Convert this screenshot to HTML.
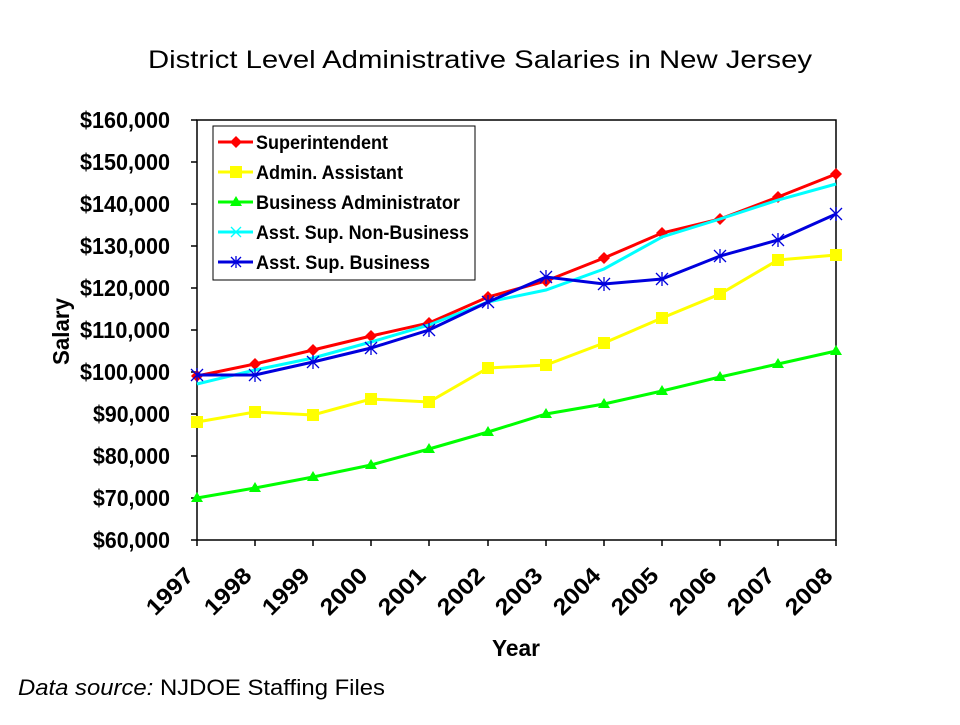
<!DOCTYPE html>
<html><head><meta charset="utf-8"><style>
body{margin:0;background:#fff;}
svg text{font-family:"Liberation Sans",Arial,sans-serif;}
</style></head><body>
<svg width="960" height="720" viewBox="0 0 960 720" xmlns="http://www.w3.org/2000/svg">
<rect width="960" height="720" fill="#fff"/>
<text x="148" y="68" font-size="25" textLength="664" lengthAdjust="spacingAndGlyphs">District Level Administrative Salaries in New Jersey</text>
<rect x="197" y="120" width="639" height="420" fill="none" stroke="#000" stroke-width="1.5"/>
<g stroke="#000" stroke-width="1.5">
<line x1="191" y1="120" x2="197" y2="120"/><line x1="191" y1="162" x2="197" y2="162"/><line x1="191" y1="204" x2="197" y2="204"/><line x1="191" y1="246" x2="197" y2="246"/><line x1="191" y1="288" x2="197" y2="288"/><line x1="191" y1="330" x2="197" y2="330"/><line x1="191" y1="372" x2="197" y2="372"/><line x1="191" y1="414" x2="197" y2="414"/><line x1="191" y1="456" x2="197" y2="456"/><line x1="191" y1="498" x2="197" y2="498"/><line x1="191" y1="540" x2="197" y2="540"/>
<line x1="197" y1="540" x2="197" y2="546"/><line x1="255" y1="540" x2="255" y2="546"/><line x1="313" y1="540" x2="313" y2="546"/><line x1="371" y1="540" x2="371" y2="546"/><line x1="429" y1="540" x2="429" y2="546"/><line x1="488" y1="540" x2="488" y2="546"/><line x1="546" y1="540" x2="546" y2="546"/><line x1="604" y1="540" x2="604" y2="546"/><line x1="662" y1="540" x2="662" y2="546"/><line x1="720" y1="540" x2="720" y2="546"/><line x1="778" y1="540" x2="778" y2="546"/><line x1="836" y1="540" x2="836" y2="546"/>
</g>
<g font-size="23" font-weight="bold">
<text x="80" y="128" textLength="90" lengthAdjust="spacingAndGlyphs">$160,000</text><text x="80" y="170" textLength="90" lengthAdjust="spacingAndGlyphs">$150,000</text><text x="80" y="212" textLength="90" lengthAdjust="spacingAndGlyphs">$140,000</text><text x="80" y="254" textLength="90" lengthAdjust="spacingAndGlyphs">$130,000</text><text x="80" y="296" textLength="90" lengthAdjust="spacingAndGlyphs">$120,000</text><text x="80" y="338" textLength="90" lengthAdjust="spacingAndGlyphs">$110,000</text><text x="80" y="380" textLength="90" lengthAdjust="spacingAndGlyphs">$100,000</text><text x="93" y="422" textLength="77" lengthAdjust="spacingAndGlyphs">$90,000</text><text x="93" y="464" textLength="77" lengthAdjust="spacingAndGlyphs">$80,000</text><text x="93" y="506" textLength="77" lengthAdjust="spacingAndGlyphs">$70,000</text><text x="93" y="548" textLength="77" lengthAdjust="spacingAndGlyphs">$60,000</text>
</g>
<g font-size="23" font-weight="bold">
<text transform="translate(195,577) rotate(-45)" x="-56" textLength="56" lengthAdjust="spacingAndGlyphs">1997</text>
<text transform="translate(253,577) rotate(-45)" x="-56" textLength="56" lengthAdjust="spacingAndGlyphs">1998</text>
<text transform="translate(311,577) rotate(-45)" x="-56" textLength="56" lengthAdjust="spacingAndGlyphs">1999</text>
<text transform="translate(369,577) rotate(-45)" x="-56" textLength="56" lengthAdjust="spacingAndGlyphs">2000</text>
<text transform="translate(427,577) rotate(-45)" x="-56" textLength="56" lengthAdjust="spacingAndGlyphs">2001</text>
<text transform="translate(486,577) rotate(-45)" x="-56" textLength="56" lengthAdjust="spacingAndGlyphs">2002</text>
<text transform="translate(544,577) rotate(-45)" x="-56" textLength="56" lengthAdjust="spacingAndGlyphs">2003</text>
<text transform="translate(602,577) rotate(-45)" x="-56" textLength="56" lengthAdjust="spacingAndGlyphs">2004</text>
<text transform="translate(660,577) rotate(-45)" x="-56" textLength="56" lengthAdjust="spacingAndGlyphs">2005</text>
<text transform="translate(718,577) rotate(-45)" x="-56" textLength="56" lengthAdjust="spacingAndGlyphs">2006</text>
<text transform="translate(776,577) rotate(-45)" x="-56" textLength="56" lengthAdjust="spacingAndGlyphs">2007</text>
<text transform="translate(834,577) rotate(-45)" x="-56" textLength="56" lengthAdjust="spacingAndGlyphs">2008</text>
</g>
<text x="492" y="656" font-size="23" font-weight="bold" textLength="48" lengthAdjust="spacingAndGlyphs">Year</text>
<text transform="translate(69,365) rotate(-90)" font-size="23" font-weight="bold" textLength="67" lengthAdjust="spacingAndGlyphs">Salary</text>
<text x="18" y="695" font-size="22" textLength="367" lengthAdjust="spacingAndGlyphs"><tspan font-style="italic">Data source:</tspan> NJDOE Staffing Files</text>

<polyline fill="none" stroke="#00ff00" stroke-width="3" points="197,498 255,488 313,477 371,465 429,449 488,432 546,414 604,404 662,391 720,377 778,364 836,351"/>
<g fill="#00ff00"><path d="M197,492 l6,10 h-12z"/><path d="M255,482 l6,10 h-12z"/><path d="M313,471 l6,10 h-12z"/><path d="M371,459 l6,10 h-12z"/><path d="M429,443 l6,10 h-12z"/><path d="M488,426 l6,10 h-12z"/><path d="M546,408 l6,10 h-12z"/><path d="M604,398 l6,10 h-12z"/><path d="M662,385 l6,10 h-12z"/><path d="M720,371 l6,10 h-12z"/><path d="M778,358 l6,10 h-12z"/><path d="M836,345 l6,10 h-12z"/></g>

<polyline fill="none" stroke="#ffff00" stroke-width="3" points="197,422 255,412 313,415 371,399 429,402 488,368 546,365 604,343 662,318 720,294 778,260 836,255"/>
<g fill="#ffff00"><rect x="191" y="416" width="12" height="12"/><rect x="249" y="406" width="12" height="12"/><rect x="307" y="409" width="12" height="12"/><rect x="365" y="393" width="12" height="12"/><rect x="423" y="396" width="12" height="12"/><rect x="482" y="362" width="12" height="12"/><rect x="540" y="359" width="12" height="12"/><rect x="598" y="337" width="12" height="12"/><rect x="656" y="312" width="12" height="12"/><rect x="714" y="288" width="12" height="12"/><rect x="772" y="254" width="12" height="12"/><rect x="830" y="249" width="12" height="12"/></g>

<polyline fill="none" stroke="#ff0000" stroke-width="3" points="197,376 255,364 313,350 371,336 429,323 488,297 546,281 604,258 662,233 720,219 778,197 836,174"/>
<g fill="#ff0000"><path d="M197,370 l6,6 -6,6 -6,-6z"/><path d="M255,358 l6,6 -6,6 -6,-6z"/><path d="M313,344 l6,6 -6,6 -6,-6z"/><path d="M371,330 l6,6 -6,6 -6,-6z"/><path d="M429,317 l6,6 -6,6 -6,-6z"/><path d="M488,291 l6,6 -6,6 -6,-6z"/><path d="M546,275 l6,6 -6,6 -6,-6z"/><path d="M604,252 l6,6 -6,6 -6,-6z"/><path d="M662,227 l6,6 -6,6 -6,-6z"/><path d="M720,213 l6,6 -6,6 -6,-6z"/><path d="M778,191 l6,6 -6,6 -6,-6z"/><path d="M836,168 l6,6 -6,6 -6,-6z"/></g>

<polyline fill="none" stroke="#00ffff" stroke-width="3" points="197,384 255,370 313,358 371,342 429,325 488,302 546,290 604,269 662,237 720,219 778,200 836,184"/>
<polyline fill="none" stroke="#0000dd" stroke-width="3" points="197,375 255,375 313,362 371,348 429,330 488,302 546,277 604,284 662,279 720,256 778,240 836,214"/>
<g stroke="#0000dd" stroke-width="1.3">
<path d="M191,369l12,12M203,369l-12,12M197,368v14"/><path d="M249,369l12,12M261,369l-12,12M255,368v14"/><path d="M307,356l12,12M319,356l-12,12M313,355v14"/><path d="M365,342l12,12M377,342l-12,12M371,341v14"/><path d="M423,324l12,12M435,324l-12,12M429,323v14"/><path d="M482,296l12,12M494,296l-12,12M488,295v14"/><path d="M540,271l12,12M552,271l-12,12M546,270v14"/><path d="M598,278l12,12M610,278l-12,12M604,277v14"/><path d="M656,273l12,12M668,273l-12,12M662,272v14"/><path d="M714,250l12,12M726,250l-12,12M720,249v14"/><path d="M772,234l12,12M784,234l-12,12M778,233v14"/><path d="M830,208l12,12M842,208l-12,12M836,207v14"/>
</g>

<rect x="213" y="126" width="262" height="154" fill="#fff" stroke="#000" stroke-width="1"/>
<g stroke-width="3">
<line x1="218" y1="142" x2="253" y2="142" stroke="#ff0000"/>
<line x1="218" y1="172" x2="253" y2="172" stroke="#ffff00"/>
<line x1="218" y1="202" x2="253" y2="202" stroke="#00ff00"/>
<line x1="218" y1="232" x2="253" y2="232" stroke="#00ffff"/>
<line x1="218" y1="262" x2="253" y2="262" stroke="#0000dd"/>
</g>
<path d="M236,136 l6,6 -6,6 -6,-6z" fill="#ff0000"/>
<rect x="230" y="166" width="12" height="12" fill="#ffff00"/>
<path d="M236,196 l6,10 h-12z" fill="#00ff00"/>
<path d="M231,227l10,10M241,227l-10,10" stroke="#00ffff" stroke-width="1.3"/>
<path d="M231,257l10,10M241,257l-10,10M236,256v12" stroke="#0000dd" stroke-width="1.3"/>
<g font-size="19" font-weight="bold">
<text x="256" y="149" textLength="132" lengthAdjust="spacingAndGlyphs">Superintendent</text>
<text x="256" y="179" textLength="147" lengthAdjust="spacingAndGlyphs">Admin. Assistant</text>
<text x="256" y="209" textLength="204" lengthAdjust="spacingAndGlyphs">Business Administrator</text>
<text x="256" y="239" textLength="213" lengthAdjust="spacingAndGlyphs">Asst. Sup. Non-Business</text>
<text x="256" y="269" textLength="174" lengthAdjust="spacingAndGlyphs">Asst. Sup. Business</text>
</g>
</svg>
</body></html>
